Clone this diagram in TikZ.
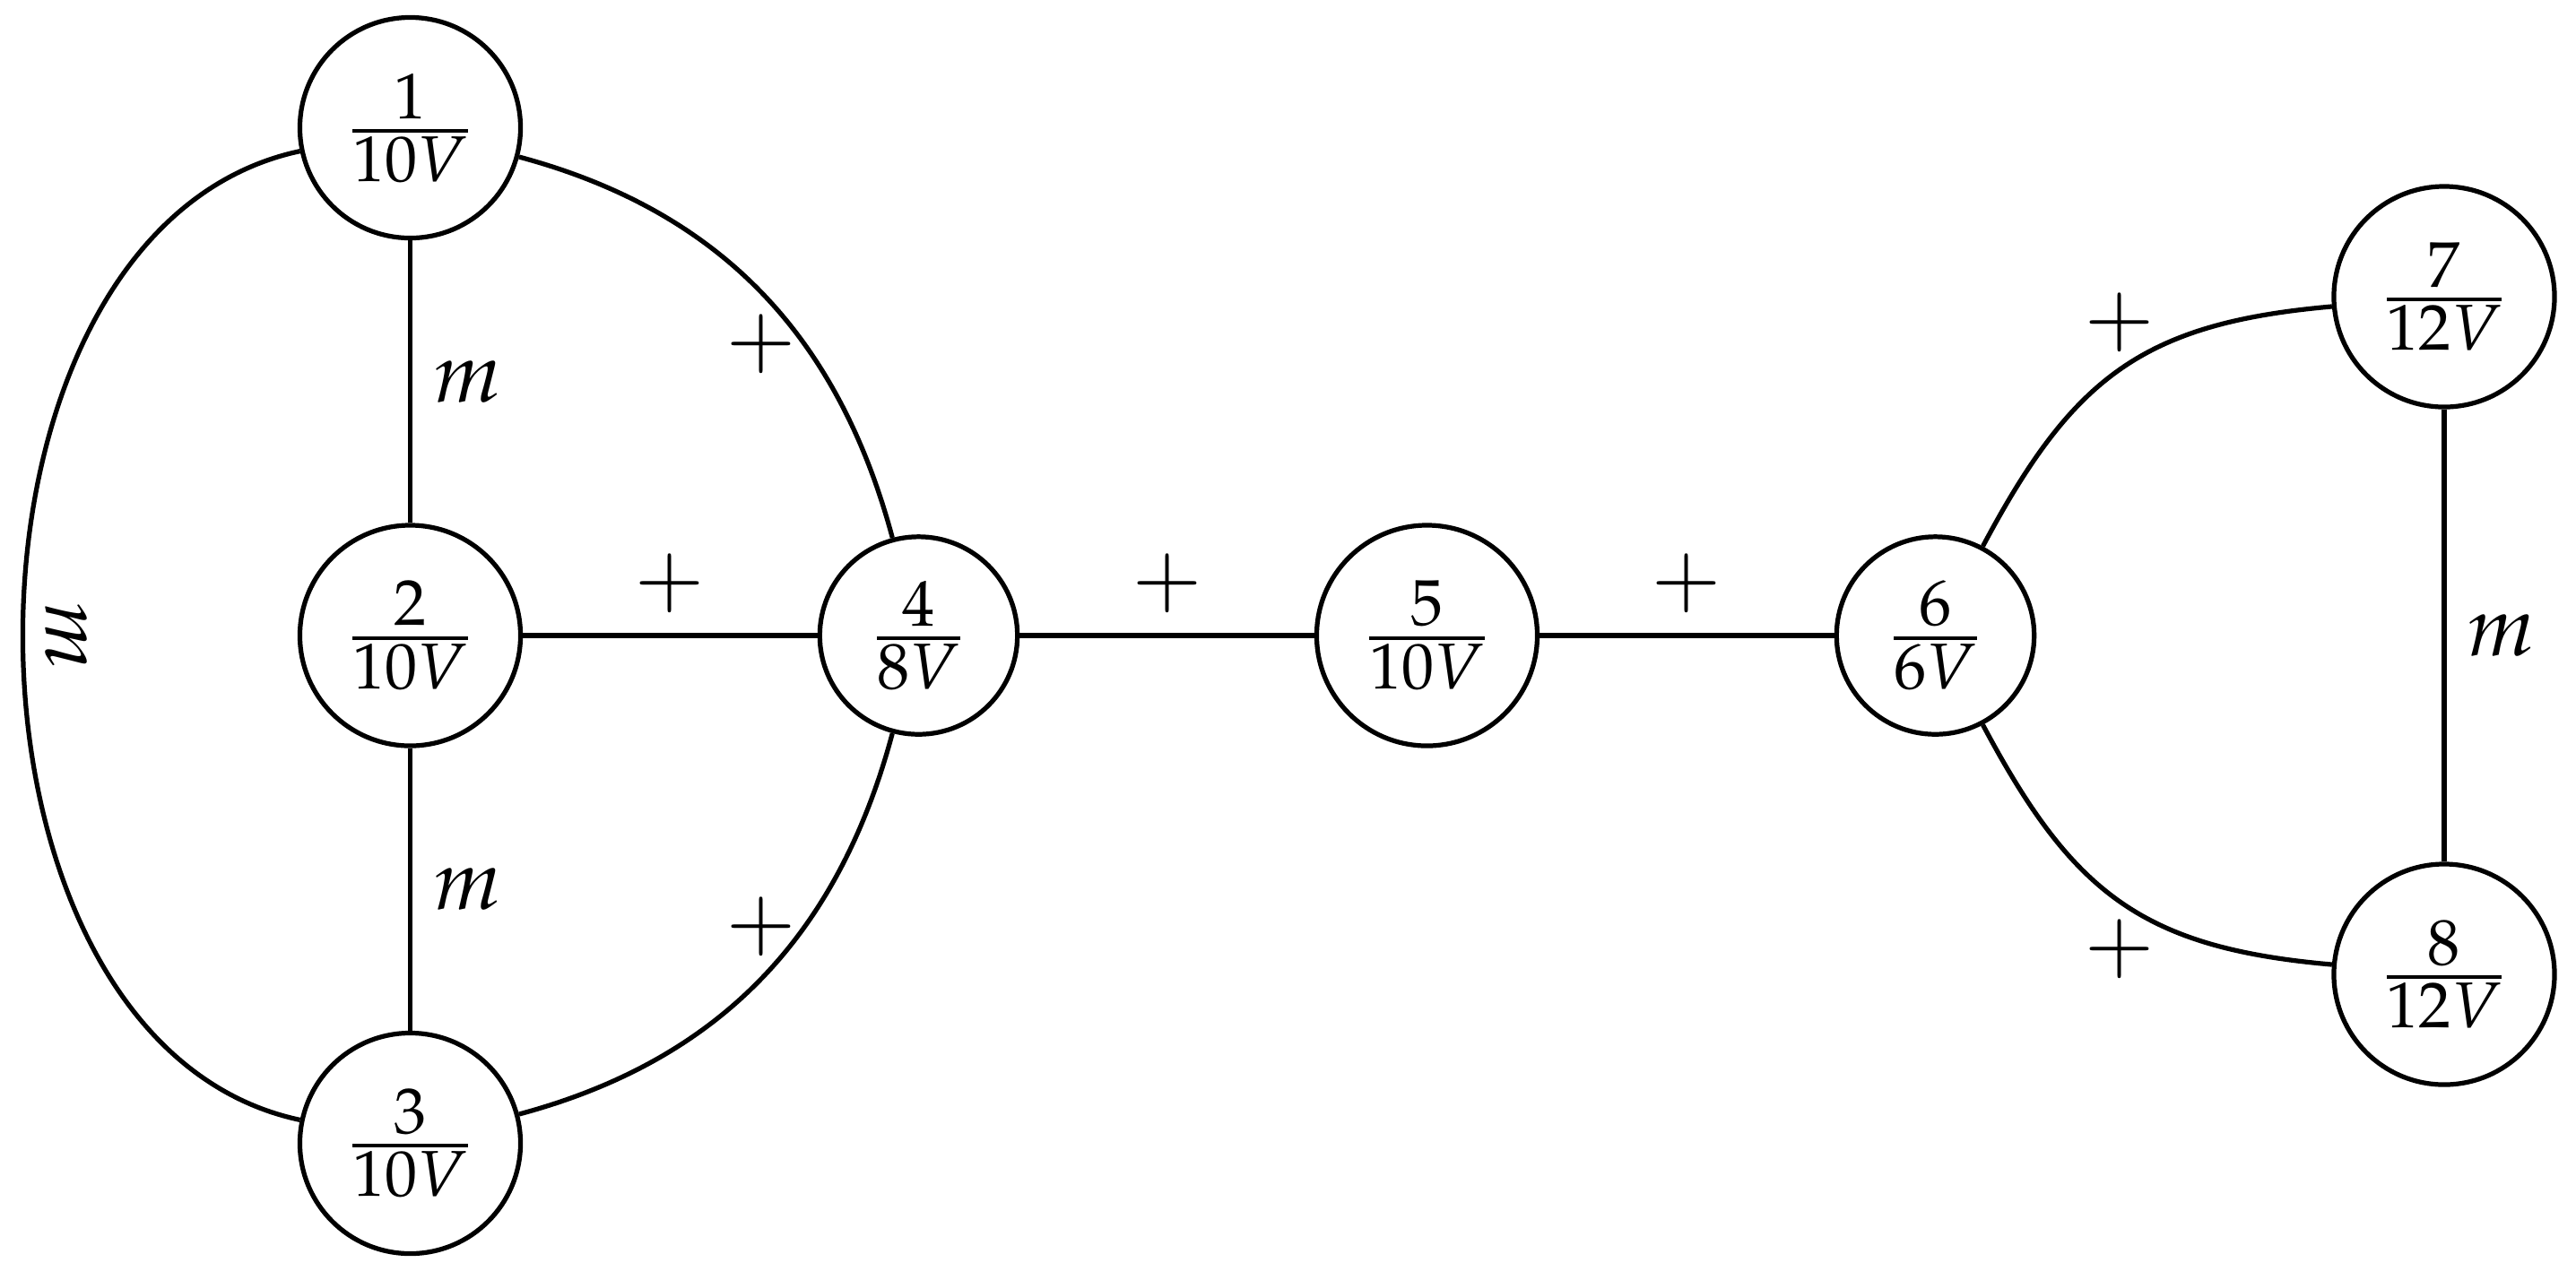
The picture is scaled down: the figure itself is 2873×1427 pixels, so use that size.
\documentclass[tikz,border=0pt]{standalone}
\usepackage{mathpazo}
\begin{document}
\begin{tikzpicture}[x=0.10526pt, y=0.10526pt,
  vtx/.style={draw, circle, line width=0.55pt, inner sep=0pt, minimum size=25.9pt},
  vsm/.style={vtx, minimum size=23.2pt},
  edge/.style={line width=0.55pt},
  lab/.style={inner sep=2.4pt}]
\useasboundingbox (0,0) rectangle (2873,-1427);
\node[vtx] (n1) at (457.5,-142.5) {$\frac{1}{10V}$};
\node[vtx] (n2) at (457.5,-709) {$\frac{2}{10V}$};
\node[vtx] (n3) at (457.5,-1275.5) {$\frac{3}{10V}$};
\node[vsm] (n4) at (1024.5,-709) {$\frac{4}{8V}$};
\node[vtx] (n5) at (1591.5,-709) {$\frac{5}{10V}$};
\node[vsm] (n6) at (2158.5,-709) {$\frac{6}{6V}$};
\node[vtx] (n7) at (2726,-331) {$\frac{7}{12V}$};
\node[vtx] (n8) at (2726,-1087) {$\frac{8}{12V}$};
\draw[edge] (n1) -- node[lab, right] {$m$} (n2);
\draw[edge] (n2) -- node[lab, right] {$m$} (n3);
\draw[edge] (n1) to[out=192,in=168,looseness=1.0] node[lab, midway, rotate=-90, above] {$m$} (n3);
\draw[edge] (n1) to[out=-15,in=105] node[lab, below] {$+$} (n4);
\draw[edge] (n3) to[out=15,in=-105] node[lab, above] {$+$} (n4);
\draw[edge] (n2) -- node[lab, above] {$+$} (n4);
\draw[edge] (n4) -- node[lab, above] {$+$} (n5);
\draw[edge] (n5) -- node[lab, above] {$+$} (n6);
\draw[edge] (n6) to[out=62,in=185,looseness=1.15] node[lab, above, yshift=-0.6pt] {$+$} (n7);
\draw[edge] (n6) to[out=-62,in=175,looseness=1.15] node[lab, below, yshift=0.6pt] {$+$} (n8);
\draw[edge] (n7) -- node[lab, right] {$m$} (n8);
\end{tikzpicture}
\end{document}
